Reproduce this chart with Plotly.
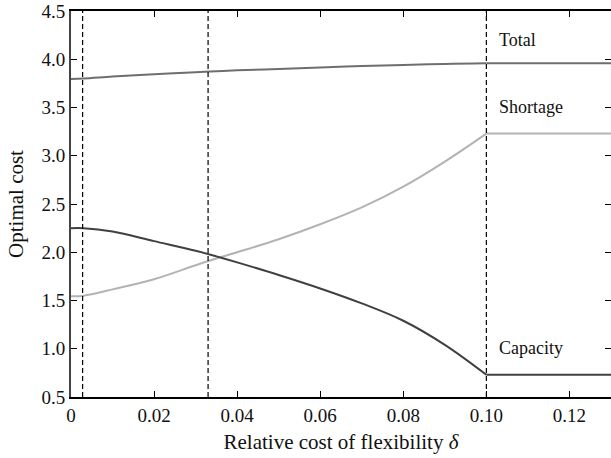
import plotly.graph_objects as go

# Relative cost of flexibility (delta)
delta = [0.0, 0.003, 0.01, 0.02, 0.03, 0.035, 0.04, 0.05, 0.06, 0.07, 0.08, 0.09, 0.1, 0.13]
capacity = [2.25, 2.25, 2.215, 2.115, 2.015, 1.957, 1.895, 1.765, 1.625, 1.47, 1.29, 1.04, 0.73, 0.73]
shortage = [1.545, 1.55, 1.615, 1.72, 1.865, 1.935, 2.00, 2.135, 2.29, 2.465, 2.68, 2.94, 3.23, 3.23]
total = [3.795, 3.80, 3.82, 3.845, 3.865, 3.875, 3.885, 3.90, 3.915, 3.93, 3.94, 3.952, 3.958, 3.958]
thresholds = [0.0028, 0.033, 0.1]

x_ticks = [0, 0.02, 0.04, 0.06, 0.08, 0.10, 0.12]
x_ticklabels = ["0", "0.02", "0.04", "0.06", "0.08", "0.10", "0.12"]
y_ticks = [0.5, 1.0, 1.5, 2.0, 2.5, 3.0, 3.5, 4.0, 4.5]
y_ticklabels = ["0.5", "1.0", "1.5", "2.0", "2.5", "3.0", "3.5", "4.0", "4.5"]

labels = ["Total", "Shortage", "Capacity"]
label_y = [4.20, 3.51, 1.01]
label_x = 0.1025

series = [(total, "#6e6e6e"), (shortage, "#b3b3b3"), (capacity, "#404040")]

fig = go.Figure()
for ys, col in series:
    # curved part up to the kink at 0.1
    fig.add_trace(go.Scatter(x=delta[:-1], y=ys[:-1], mode="lines",
                             line=dict(color=col, width=2, shape="spline", smoothing=1.0),
                             showlegend=False, hoverinfo="skip"))
    # flat part after 0.1
    fig.add_trace(go.Scatter(x=delta[-2:], y=ys[-2:], mode="lines",
                             line=dict(color=col, width=2),
                             showlegend=False, hoverinfo="skip"))

# invisible trace to activate the right-hand tick axis
fig.add_trace(go.Scatter(x=[delta[0]], y=[capacity[0]], yaxis="y2", mode="lines",
                         line=dict(width=0), showlegend=False, hoverinfo="skip"))

for t in thresholds:
    fig.add_shape(type="line", x0=t, x1=t, y0=0, y1=1, xref="x", yref="paper",
                  line=dict(color="black", width=1.2, dash="5px,3px"))

for txt, yv in zip(labels, label_y):
    fig.add_annotation(x=label_x, y=yv, text=txt, showarrow=False,
                       xanchor="left", yanchor="middle",
                       font=dict(family="Liberation Serif", size=18, color="#111"))

fig.update_layout(
    width=611, height=458,
    margin=dict(l=71, r=0, t=11, b=61),
    paper_bgcolor="white", plot_bgcolor="white",
    font=dict(family="Liberation Serif", size=19, color="#111"),
    xaxis=dict(range=[0, 0.13], tickvals=x_ticks, ticktext=x_ticklabels,
               ticks="inside", ticklen=6, tickcolor="black", tickwidth=1.2,
               showline=True, linecolor="black", linewidth=1.5, mirror="ticks",
               showgrid=False, zeroline=False,
               title=dict(text="Relative cost of flexibility <i>δ</i>", standoff=10,
                          font=dict(size=21))),
    yaxis=dict(range=[0.5, 4.5], tickvals=y_ticks, ticktext=y_ticklabels,
               ticks="inside", ticklen=6, tickcolor="black", tickwidth=1.2,
               showline=True, linecolor="#444", linewidth=2, mirror=False,
               showgrid=False, zeroline=False,
               title=dict(text="Optimal cost", standoff=12, font=dict(size=21))),
    yaxis2=dict(range=[0.5, 4.5], tickvals=y_ticks, showticklabels=False,
                overlaying="y", side="right", anchor="x",
                ticks="inside", ticklen=6, tickcolor="black", tickwidth=1.2,
                showline=False, showgrid=False, zeroline=False),
)

fig.write_html("out.html", config={"displayModeBar": False},
               post_script="document.body.style.margin='0';")
